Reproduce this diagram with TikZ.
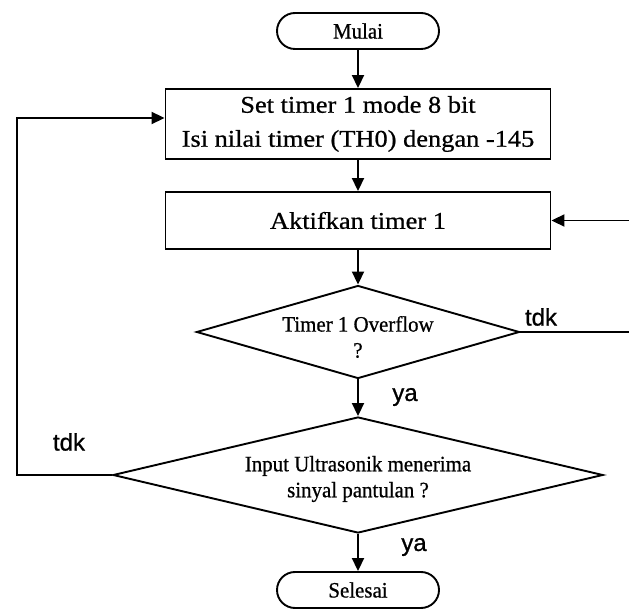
\documentclass[tikz,border=0pt]{standalone}
\usepackage{fontspec}
\setmainfont[FakeStretch=0.95,FakeBold=0.7]{Liberation Serif}
\newfontfamily\wideserif[FakeStretch=1.1,FakeBold=0.7]{Liberation Serif}
\newfontfamily\labelsans[FakeBold=0.9]{Liberation Sans}
\usetikzlibrary{shapes.geometric,shapes.misc,arrows.meta,calc}

\begin{document}
\begin{tikzpicture}[x=1pt,y=-1pt,
  every node/.style={inner sep=0pt},
  flow/.style={line width=1.9pt},
  arr/.style={flow,-{Triangle[length=13pt,width=12pt]}},
  terminal/.style={draw,line width=1.9pt,rounded rectangle,minimum width=162pt,
    minimum height=36pt,font=\fontsize{22}{26}\selectfont},
  process/.style={draw,line width=1.9pt,rectangle,minimum width=385pt,align=center,
    font=\wideserif\fontsize{24}{34}\selectfont},
  decision/.style={draw,line width=1.9pt,diamond},
  question/.style={align=center,font=\fontsize{22}{26}\selectfont},
  answer/.style={font=\labelsans\fontsize{24}{24}\selectfont}]

\useasboundingbox (0,0) rectangle (629,609);

% flowchart blocks
\node[terminal] (start) at (358,31) {Mulai};
\node[process,minimum height=70pt] (init) at (358,124)
  {Set timer 1 mode 8 bit\\Isi nilai timer (TH0) dengan -145};
\node[process,minimum height=57pt] (run) at (358,220.5) {Aktifkan timer 1};
\node[decision,aspect=3.47,minimum width=323pt,minimum height=93pt] (ovf) at (358,332) {};
\node[question] (ovftext) at (358,337) {Timer 1 Overflow\\?};
\node[decision,aspect=4.22,minimum width=490pt,minimum height=116pt] (echo) at (358,475) {};
\node[question] (echotext) at (358,479) {Input Ultrasonik menerima\\sinyal pantulan ?};
\node[terminal] (stop) at (358,590) {Selesai};

% branch labels
\node[answer] (noA) at (541,317) {tdk};
\node[answer] (yesA) at (405,397) {ya};
\node[answer] (noB) at (69,442) {tdk};
\node[answer] (yesB) at (414,547) {ya};

% main flow
\draw[arr] (start) -- (init);
\draw[arr] (init) -- (run);
\draw[arr] (run) -- (ovf);
\draw[arr] (ovf) -- (echo);
\draw[arr] (echo) -- (stop);

% loop back while the timer has not overflowed
\coordinate (rloop) at (640,332);
\draw[arr] (ovf.east) -- (rloop) |- (run.east);

% loop back while no echo is received
\coordinate (lloop) at (17,475);
\coordinate (lin) at ([yshift=6pt]init.west);
\draw[arr] (echo.west) -- (lloop) |- (lin);
\end{tikzpicture}
\end{document}
